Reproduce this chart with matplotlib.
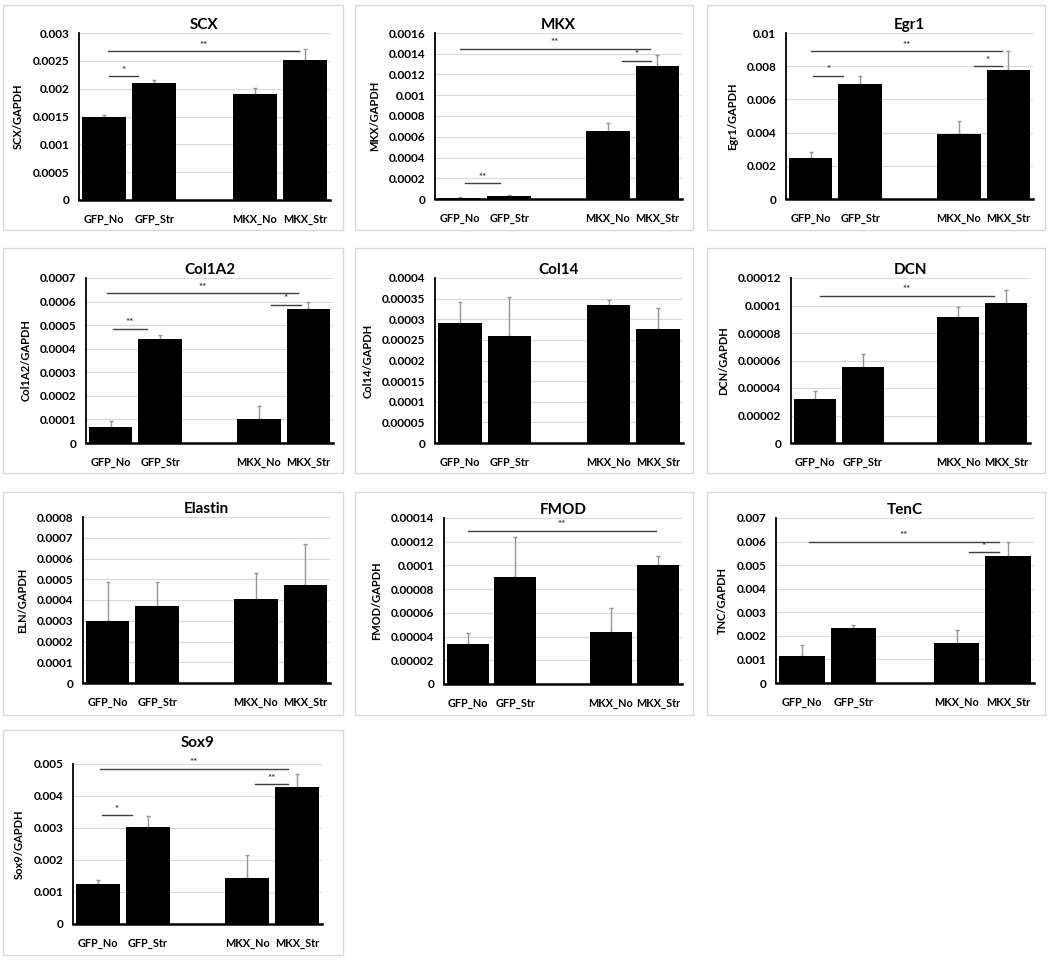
import numpy as np
import matplotlib.pyplot as plt
from matplotlib.patches import Rectangle

plt.rcParams['font.family'] = ['Lato', 'DejaVu Sans']

# Data
groups = ['GFP_No', 'GFP_Str', 'MKX_No', 'MKX_Str']
xpos = [0, 1, 3, 4]

scx_mean = [0.0015, 0.0021, 0.0019, 0.00252]
scx_err = [0.00003, 0.00005, 0.00012, 0.0002]
mkx_mean = [0.00001, 0.00003, 0.00066, 0.00128]
mkx_err = [0.00001, 0.000005, 0.00007, 0.00011]
egr1_mean = [0.0025, 0.0069, 0.0039, 0.0078]
egr1_err = [0.00035, 0.0005, 0.0008, 0.0011]
col1a2_mean = [0.00007, 0.00044, 0.0001, 0.00057]
col1a2_err = [0.000023, 0.000018, 0.000057, 0.00003]
col14_mean = [0.00029, 0.00026, 0.000335, 0.000277]
col14_err = [0.000052, 0.000095, 0.000012, 0.00005]
dcn_mean = [0.000032, 0.000055, 0.000092, 0.0001015]
dcn_err = [0.000006, 0.00001, 0.000007, 0.0000095]
eln_mean = [0.0003, 0.000372, 0.000405, 0.00047]
eln_err = [0.000185, 0.000113, 0.000123, 0.0002]
fmod_mean = [0.000034, 0.00009, 0.000044, 0.0001]
fmod_err = [0.000009, 0.000034, 0.00002, 0.000008]
tnc_mean = [0.00113, 0.00233, 0.0017, 0.0054]
tnc_err = [0.00047, 0.00012, 0.00055, 0.0006]
sox9_mean = [0.00125, 0.00303, 0.00145, 0.00428]
sox9_err = [0.00012, 0.00034, 0.00072, 0.00042]

# significance bars: (x start, x end, y, label)
scx_sig = [(0.1, 0.68, 0.00222, '*'), (0.08, 3.88, 0.00267, '**')]
mkx_sig = [(0.11, 0.82, 0.00015, '**'), (0.0, 3.85, 0.00145, '**'), (3.28, 3.87, 0.00133, '*')]
egr1_sig = [(0.05, 0.66, 0.0074, '*'), (0.0, 3.87, 0.0089, '**'), (3.3, 3.87, 0.008, '*')]
col1a2_sig = [(0.05, 0.73, 0.000485, '**'), (-0.08, 3.8, 0.000635, '**'), (3.24, 3.85, 0.000585, '*')]
dcn_sig = [(0.1, 3.75, 0.000107, '**')]
fmod_sig = [(0.0, 3.95, 0.000129, '**')]
tnc_sig = [(0.13, 3.82, 0.006, '**'), (3.24, 3.82, 0.00555, '*')]
sox9_sig = [(0.08, 0.69, 0.0034, '*'), (0.04, 3.82, 0.00485, '**'), (3.15, 3.82, 0.00437, '**')]

W, H = 1050, 961
fig = plt.figure(figsize=(W / 100, H / 100), dpi=100)


def px_axes(l, t, r, b):
    return fig.add_axes([l / W, 1 - b / H, (r - l) / W, (b - t) / H])


def box(l, t, r, b):
    fig.patches.append(Rectangle((l / W, 1 - b / H), (r - l) / W, (b - t) / H,
                                 transform=fig.transFigure, fill=False,
                                 edgecolor='#d9d9d9', lw=1))


def panel(rect, frame, title, ylabel, mean, err, ymax, step, fmt, sig, tpad=3):
    box(*frame)
    ax = px_axes(*rect)
    ax.bar(xpos, mean, width=0.88, color='black', zorder=3)
    ax.errorbar(xpos, mean, yerr=[[0] * 4, err], fmt='none', ecolor='#969696',
                elinewidth=1, capsize=1.5, capthick=1, zorder=2)
    ax.set_xlim(-0.5, 4.5)
    ax.set_ylim(0, ymax)
    ticks = np.arange(0, ymax + step / 2, step)
    ax.set_yticks(ticks)
    ax.set_yticklabels(['0'] + [fmt.format(t).rstrip('0') for t in ticks[1:]],
                       fontsize=8.5, fontweight='bold')
    ax.set_xticks(xpos)
    ax.set_xticklabels(groups, fontsize=7.8, fontweight='bold')
    ax.tick_params(length=0, pad=10)
    ax.tick_params(axis='y', pad=7)
    ax.grid(axis='y', color='#d9d9d9', lw=0.8, zorder=0)
    ax.set_axisbelow(True)
    for s in ['top', 'right']:
        ax.spines[s].set_visible(False)
    ax.spines['left'].set_linewidth(1.3)
    ax.spines['bottom'].set_linewidth(1.8)
    ax.set_title(title, fontsize=11, fontweight='bold', pad=tpad)
    ax.set_ylabel(ylabel, fontsize=8, fontweight='bold', labelpad=6)
    for x0, x1, y, lab in sig:
        ax.plot([x0, x1], [y, y], color='#404040', lw=1, zorder=4, clip_on=False)
        ax.text((x0 + x1) / 2, y + ymax * 0.01, lab, ha='center', va='bottom',
                fontsize=7, fontweight='bold', color='#404040')
    return ax


panel((79, 33, 330, 200), (3, 5, 343, 230), 'SCX', 'SCX/GAPDH',
      scx_mean, scx_err, 0.003, 0.0005, '{:.4f}', scx_sig)
panel((435, 33, 682, 199), (355, 5, 693, 230), 'MKX', 'MKX/GAPDH',
      mkx_mean, mkx_err, 0.0016, 0.0002, '{:.4f}', mkx_sig)
panel((786, 33, 1033, 199), (707, 5, 1045, 230), 'Egr1', 'Egr1/GAPDH',
      egr1_mean, egr1_err, 0.01, 0.002, '{:.3f}', egr1_sig)
panel((86, 278, 333, 443), (3, 248, 343, 473), 'Col1A2', 'Col1A2/GAPDH',
      col1a2_mean, col1a2_err, 0.0007, 0.0001, '{:.4f}', col1a2_sig)
panel((435, 278, 683, 443), (355, 248, 693, 473), 'Col14', 'Col14/GAPDH',
      col14_mean, col14_err, 0.0004, 0.00005, '{:.5f}', [])
panel((791, 278, 1030, 443), (707, 248, 1045, 473), 'DCN', 'DCN/GAPDH',
      dcn_mean, dcn_err, 0.00012, 0.00002, '{:.5f}', dcn_sig)
panel((83, 517, 330, 683), (3, 492, 343, 715), 'Elastin', 'ELN/GAPDH',
      eln_mean, eln_err, 0.0008, 0.0001, '{:.4f}', [])
panel((444, 518, 682, 684), (355, 492, 693, 715), 'FMOD', 'FMOD/GAPDH',
      fmod_mean, fmod_err, 0.00014, 0.00002, '{:.5f}', fmod_sig)
panel((776, 518, 1034, 683), (707, 492, 1045, 715), 'TenC', 'TNC/GAPDH',
      tnc_mean, tnc_err, 0.007, 0.001, '{:.3f}', tnc_sig)
panel((73, 764, 322, 924), (3, 730, 343, 955), 'Sox9', 'Sox9/GAPDH',
      sox9_mean, sox9_err, 0.005, 0.001, '{:.3f}', sox9_sig, tpad=12)

plt.savefig('out.png', dpi=100)
